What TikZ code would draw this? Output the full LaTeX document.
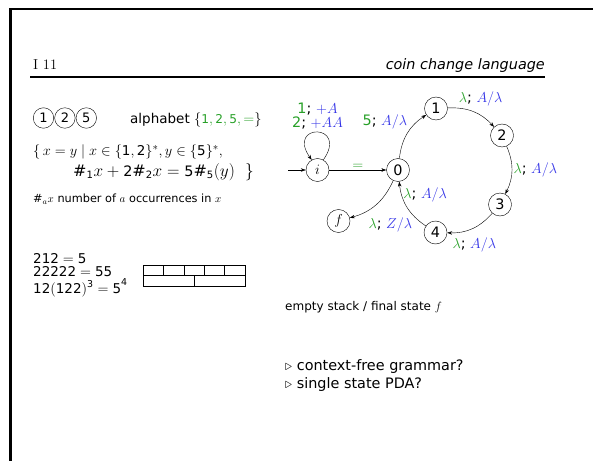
\documentclass[tikz,border=0pt]{standalone}
\usepackage{fontspec}
\setmainfont{DejaVu Sans}
\newfontfamily\digitfont{DejaVu Sans}[NFSSFamily=dejavudigits, Scale=0.9]
\usepackage{xcolor}
\usetikzlibrary{arrows.meta, positioning}
% sans digits in math, as on the slide
\DeclareSymbolFont{sfdigits}{TU}{dejavudigits}{m}{n}
\AtBeginDocument{%
  \DeclareMathSymbol{0}{\mathalpha}{sfdigits}{"30}%
  \DeclareMathSymbol{1}{\mathalpha}{sfdigits}{"31}%
  \DeclareMathSymbol{2}{\mathalpha}{sfdigits}{"32}%
  \DeclareMathSymbol{3}{\mathalpha}{sfdigits}{"33}%
  \DeclareMathSymbol{4}{\mathalpha}{sfdigits}{"34}%
  \DeclareMathSymbol{5}{\mathalpha}{sfdigits}{"35}%
}
\definecolor{symgreen}{RGB}{40,160,40}
\definecolor{stackblue}{RGB}{50,50,230}
\newcommand{\inp}[1]{\textcolor{symgreen}{#1}}
\newcommand{\stk}[1]{\textcolor{stackblue}{#1}}
\tikzset{
  state/.style={circle, draw, thin, minimum size=23pt, inner sep=0pt},
  coin/.style={circle, draw, thin, minimum size=20.5pt, inner sep=0pt,
    font=\fontsize{13}{15}\selectfont},
  trans/.style={-{Stealth[length=5pt, width=3.5pt]}, thin},
  lbl/.style={inner sep=1.5pt},
  slidetext/.style={anchor=west, inner sep=0pt, align=left},
}

\begin{document}
\begin{tikzpicture}[x=1pt, y=1pt, font=\fontsize{14.4}{17}\selectfont]
  \useasboundingbox (0,0) rectangle (593,461);
  % slide frame and header
  \fill (9,0) rectangle (12.3,453.3);
  \fill (9,451) rectangle (593,453.3);
  \node[anchor=base west, inner sep=0pt, font=\fontsize{14.4}{17}\fontfamily{lmr}\selectfont]
    (pageno) at (33,391) {I 11};
  \node[anchor=base east, inner sep=0pt, font=\fontsize{14.4}{17}\selectfont\itshape]
    (title) at (545,391) {coin change language};
  \draw[line width=1.5pt] (30,384) -- (545,384);

  \node[coin] (c1) at (43.5,343) {1};
  \node[coin, right=0.5pt of c1] (c2) {2};
  \node[coin, right=0.5pt of c2] (c5) {5};
  \node[slidetext, font=\fontsize{13.5}{16}\selectfont] (alph) at (130,341)
    {alphabet $\{{\color{symgreen}1,2,5,=}\}$};
  \node[slidetext, font=\fontsize{15}{18}\selectfont] (lang1) at (33,309)
    {$\{\,x=y\mid x\in\{1,2\}^*, y\in\{5\}^*,$};
  \node[slidetext, font=\fontsize{16}{18}\selectfont] (lang2) at (73,289)
    {$\#_1x+2\#_2x=5\#_5(y)\ \ \}$};
  \node[slidetext, font=\fontsize{11.3}{13}\selectfont] (count) at (33,262)
    {$\#_ax$ number of $a$ occurrences in $x$};

  \node[slidetext, anchor=base west, font=\fontsize{15}{13}\selectfont] (examples) at (33,168)
    {$212=5$\\$22222=55$\\[1pt]$12(122)^3=5^4$};

  % stack cells
  \draw (143,175) rectangle (245,196);
  \draw (143,185.5) -- (245,185.5);
  \foreach \x in {163.4,183.8,204.2,224.6}
    \draw (\x,185.5) -- (\x,196);
  \draw (194,175) -- (194,185.5);

  % automaton
  \node[state] (qi) at (317.5,291) {$i$};
  \node[state] (q0) at (398,291) {0};
  \node[state] (q1) at (436,352.5) {1};
  \node[state] (q2) at (502,325.5) {2};
  \node[state] (q3) at (500,256.5) {3};
  \node[state] (q4) at (435.5,228.5) {4};
  \node[state] (qf) at (338.5,240) {$f$};
  \coordinate (start) at (288,291);

  \draw[trans] (start) -- (qi);
  \draw[trans] (qi.60) .. controls +(55:45) and +(125:45) .. (qi.120);
  \node[lbl, align=center, above=27pt of qi, font=\fontsize{14.4}{14}\selectfont] (loopl)
    {\inp{1}; \stk{$+A$}\\\inp{2}; \stk{$+AA$}};
  \draw[trans] (qi) -- node[above, inner sep=0pt] (leq) {\inp{$=$}} (q0);
  \draw[trans] (q0) to[bend left=25]
    node[lbl, pos=0.55, anchor=south east] (l01) {\inp{5}; \stk{$A/\lambda$}} (q1);
  \draw[trans] (q1) to[bend left=25]
    node[lbl, pos=0.17, anchor=south west] (l12) {\inp{$\lambda$}; \stk{$A/\lambda$}} (q2);
  \draw[trans] (q2) to[bend left=25]
    node[lbl, pos=0.5, right] (l23) {\inp{$\lambda$}; \stk{$A/\lambda$}} (q3);
  \draw[trans] (q3) to[bend left=25]
    node[lbl, pos=0.45, below=8pt] (l34) {\inp{$\lambda$}; \stk{$A/\lambda$}} (q4);
  \draw[trans] (q4) to[bend left=25]
    node[lbl, pos=0.76, right] (l40) {\inp{$\lambda$}; \stk{$A/\lambda$}} (q0);
  \draw[trans] (q0) to[bend left=25]
    node[lbl, pos=0.7, anchor=north west, yshift=-5pt] (l0f) {\inp{$\lambda$}; \stk{$Z/\lambda$}} (qf);

  \node[slidetext, font=\fontsize{12}{14}\selectfont] (accept) at (285,154)
    {empty stack / final state $f$};
  \node[slidetext] (q1txt) at (285,94) {$\triangleright$ context-free grammar?};
  \node[slidetext] (q2txt) at (285,76) {$\triangleright$ single state PDA?};
\end{tikzpicture}
\end{document}
